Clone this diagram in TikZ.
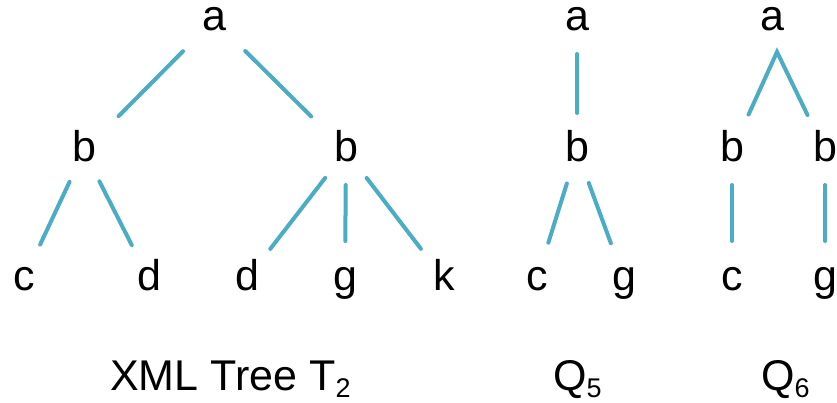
\documentclass[tikz,border=0pt]{standalone}
\usepackage{fontspec}
\usetikzlibrary{calc}
\setmainfont{Liberation Sans}
\definecolor{edgeblue}{RGB}{75,172,198}

\tikzset{
  lbl/.style={inner sep=0pt, text height=28pt, text depth=6pt},
  edge/.style={draw=edgeblue, line width=4pt, line cap=round},
  caption/.style={anchor=base west, inner sep=0pt}
}
% a link from node #2 to node #3, kept #1 (start) and #4 (end) off the centres
\newcommand{\link}[4]{\draw [edge] ($(#2)!#1!(#3)$) -- ($(#3)!#4!(#2)$) ;}
\newcommand{\subdigit}[1]{\raisebox{-7pt}{\fontsize{27pt}{30pt}\selectfont #1}}

\begin{document}
\begin{tikzpicture}[x=1pt, y=-1pt]
\fontsize{43pt}{50pt}\selectfont
\useasboundingbox (0,0) rectangle (837,403);

% tree T2
\node [lbl] (ta) at (214,20) {a};
\node [lbl] (tb1) at (84,151) {b};
\node [lbl] (tb2) at (346,151) {b};
\node [lbl] (tc) at (24,279) {c};
\node [lbl] (td1) at (149,279) {d};
\node [lbl] (td2) at (247,279) {d};
\node [lbl] (tg) at (345,279) {g};
\node [lbl] (tk) at (444,279) {k};
\link{44pt}{ta}{tb1}{49pt}
\link{44pt}{ta}{tb2}{49pt}
\link{34pt}{tb1}{tc}{38pt}
\link{34pt}{tb1}{td1}{38pt}
\link{34pt}{tb2}{td2}{38pt}
\link{34pt}{tb2}{tg}{38pt}
\link{34pt}{tb2}{tk}{38pt}

% Q5
\node [lbl] (pa) at (577,20) {a};
\node [lbl] (pb) at (577,151) {b};
\node [lbl] (pc) at (537,279) {c};
\node [lbl] (pg) at (624,279) {g};
\link{34pt}{pa}{pb}{38pt}
\link{34pt}{pb}{pc}{38pt}
\link{34pt}{pb}{pg}{38pt}

% Q6
\node [lbl] (qa) at (772,20) {a};
\node [lbl] (qb1) at (732,151) {b};
\node [lbl] (qb2) at (825,151) {b};
\node [lbl] (qc) at (732,279) {c};
\node [lbl] (qg) at (825,279) {g};
\coordinate (qfork) at (777,52) ;
\draw [edge] ($(qb1)!40pt!(qfork)$) -- (qfork) -- ($(qb2)!40pt!(qfork)$) ;
\link{34pt}{qb1}{qc}{38pt}
\link{34pt}{qb2}{qg}{38pt}

% captions
\node [caption] (tcap) at (110,390) {XML Tree T\subdigit{2}};
\node [caption] (pcap) at (553,390) {Q\subdigit{5}};
\node [caption] (qcap) at (761,390) {Q\subdigit{6}};
\end{tikzpicture}
\end{document}
